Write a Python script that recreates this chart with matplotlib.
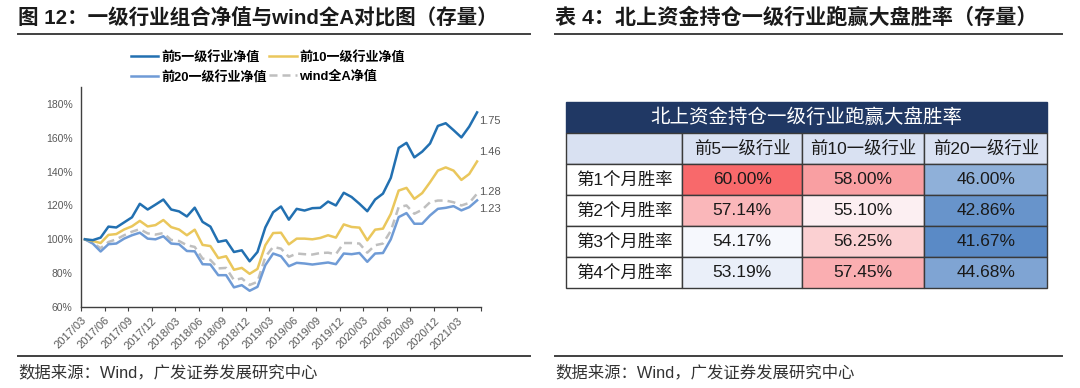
import numpy as np
import matplotlib.pyplot as plt
from matplotlib.lines import Line2D
from matplotlib.ticker import PercentFormatter
from matplotlib.colors import LinearSegmentedColormap, TwoSlopeNorm

plt.rcParams['font.family'] = ['Liberation Sans', 'Noto Sans CJK SC', 'DejaVu Sans']

# monthly net values (%), 2017/03 .. 2021/05
top5 = [100, 99.5, 101, 107.5, 107, 110, 113, 121, 117.6, 120.5, 123.5, 117.6, 116.5, 113.5,
        118.7, 110.3, 107.5, 98.5, 99.4, 92.5, 93.5, 87, 92.5, 107, 116, 119.4, 111.6, 118,
        117, 118.4, 118.6, 122.3, 120, 127.5, 125, 121, 116.6, 123.5, 127, 136.3, 154, 157,
        148.4, 151.8, 156.6, 167, 168.6, 164.5, 160.2, 166.6, 175]
top10 = [100, 99, 97.8, 102.6, 103.1, 105.8, 107.7, 110.9, 107.6, 108.4, 111.4, 107.2, 105.8,
         102.4, 105.7, 96.7, 96, 88.9, 90, 82, 83.1, 79.6, 82.5, 96.5, 103.7, 103.9, 97, 100.4,
         100.4, 100, 100.8, 102.4, 101, 108.8, 107.3, 106.9, 99.4, 105.7, 106.3, 115, 128.8,
         130.4, 123.9, 127.3, 133.7, 140.6, 142.5, 140.6, 135.1, 138.6, 146]
top20 = [100, 97.5, 92.8, 97.1, 97.5, 100.4, 102.4, 103.9, 100.4, 100, 101.8, 97.5, 97.1, 93.1,
         92.9, 85.3, 85.1, 78.8, 78.8, 71.6, 72.9, 69.6, 71.9, 84.7, 91.6, 90, 84.1, 86.1, 85.7,
         85.1, 85.7, 86.3, 85.3, 91.6, 91.2, 91.9, 86.7, 91.6, 91.9, 100, 113.1, 115.5, 109.2,
         109.2, 114.1, 118, 118.6, 119.6, 117.1, 119, 123]
wind_a = [100, 97.8, 94.8, 98.4, 100, 102.4, 104.5, 106, 103.5, 102.8, 103.7, 99.6, 99, 96.5,
          95.5, 88.6, 87.8, 82.8, 83.1, 75.9, 76.9, 73, 74.9, 89.6, 95.5, 94.5, 89.6, 91.6, 91.2,
          91, 91.9, 92.1, 91.2, 97.8, 97.8, 97.5, 92.1, 96.5, 97.5, 105, 119, 120, 115.1, 117.5,
          121.9, 122.9, 122.9, 121.9, 120, 121.5, 127]
tick_labels = ['2017/03', '2017/06', '2017/09', '2017/12', '2018/03', '2018/06', '2018/09',
               '2018/12', '2019/03', '2019/06', '2019/09', '2019/12', '2020/03', '2020/06',
               '2020/09', '2020/12', '2021/03']
end_labels = ['1.75', '1.46', '1.28', '1.23']

# table data
table_title = '北上资金持仓一级行业跑赢大盘胜率'
col_labels = ['前5一级行业', '前10一级行业', '前20一级行业']
row_labels = ['第1个月胜率', '第2个月胜率', '第3个月胜率', '第4个月胜率']
win_rate = [[60.00, 58.00, 46.00],
            [57.14, 55.10, 42.86],
            [54.17, 56.25, 41.67],
            [53.19, 57.45, 44.68]]

fig = plt.figure(figsize=(10.8, 3.88), dpi=100)

# ---- headers / footers
fig.text(18/1080, 1-18/388, '图 12：一级行业组合净值与wind全A对比图（存量）',
         fontsize=14.8, fontweight='bold', va='center', color='#1a1a1a')
fig.text(555/1080, 1-18/388, '表 4：北上资金持仓一级行业跑赢大盘胜率（存量）',
         fontsize=15.2, fontweight='bold', va='center', color='#1a1a1a')
for x0, x1 in [(18, 530), (555, 1062)]:
    fig.add_artist(Line2D([x0/1080, x1/1080], [1-34/388]*2, color='#404040', lw=1.4))
    fig.add_artist(Line2D([x0/1080, x1/1080], [1-356/388]*2, color='#404040', lw=1.4))
    fig.text(x0/1080, 1-373/388, '数据来源：Wind，广发证券发展研究中心', fontsize=11.8,
             va='center', color='#333333')

# ---- line chart
ax = fig.add_axes([81/1080, 1-307/388, 400/1080, 220/388])
x = np.arange(len(top5))
l_wind, = ax.plot(x, wind_a, color='#BFBFBF', lw=1.8, ls=(0, (3.2, 2)), label='wind全A净值')
l20, = ax.plot(x, top20, color='#6F9BD6', lw=1.8, label='前20一级行业净值')
l10, = ax.plot(x, top10, color='#EAC75C', lw=1.8, label='前10一级行业净值')
l5, = ax.plot(x, top5, color='#2270B1', lw=1.8, label='前5一级行业净值')

ax.set_xlim(-0.5, len(top5) - 0.5)
ax.set_ylim(60, 190)
ax.set_yticks(np.arange(60, 181, 20))
ax.yaxis.set_major_formatter(PercentFormatter(decimals=0))
ax.set_xticks(np.arange(-0.5, len(top5), 3))
ax.set_xticklabels(tick_labels + [''] * (len(ax.get_xticks()) - len(tick_labels)),
                   rotation=45, ha='right', rotation_mode='anchor')
ax.tick_params(axis='x', length=3, labelsize=8, colors='#404040', labelcolor='#595959', pad=3)
ax.tick_params(axis='y', length=0, labelsize=7.5, labelcolor='#595959', pad=6)
for s in ['top', 'right']:
    ax.spines[s].set_visible(False)
for s in ['left', 'bottom']:
    ax.spines[s].set_color('#404040')
    ax.spines[s].set_linewidth(1)

offsets = [(1.5, -6.5), (1.5, 7), (1.5, 1), (1.5, -6)]
for series, lab, off in zip([top5, top10, wind_a, top20], end_labels, offsets):
    ax.annotate(lab, (len(series) - 1, series[-1]), xytext=off, textcoords='offset points',
                ha='left', va='center', fontsize=8, color='#595959')

fig.legend(handles=[l5, l20, l10, l_wind], ncol=2, loc='upper left',
           bbox_to_anchor=(131/1080, 1-51/388), frameon=False, borderpad=0, borderaxespad=0,
           handlelength=2.1, handletextpad=0.2, columnspacing=0.2, labelspacing=0.5,
           prop={'size': 9.4, 'weight': 'bold'})

# ---- table
tab = fig.add_axes([566/1080, 1-288/388, 481/1080, 186/388])
tab.axis('off')
vals = np.array(win_rate)
cmap = LinearSegmentedColormap.from_list('excel3', ['#5A8AC6', '#FCFCFF', '#F8696B'])
norm = TwoSlopeNorm(vcenter=np.median(vals), vmin=vals.min(), vmax=vals.max())
navy = '#203864'
header_bg = '#D9E1F2'

cell_text = [[''] * 4, [''] + col_labels]
cell_colours = [[navy] * 4, [header_bg] * 4]
for lab, row in zip(row_labels, win_rate):
    cell_text.append([lab] + [f'{v:.2f}%' for v in row])
    cell_colours.append(['white'] + [cmap(norm(v)) for v in row])

tbl = tab.table(cellText=cell_text, cellColours=cell_colours, cellLoc='center',
                colWidths=[116, 119, 122, 122], bbox=[0, 0, 1, 1])
tbl.auto_set_font_size(False)
tbl.set_fontsize(12.5)
for (r, c), cell in tbl.get_celld().items():
    cell.set_linewidth(1)
    cell.set_edgecolor(navy if r == 0 else '#3a3a3a')
    cell.get_text().set_color('#1a1a1a')
tab.text(0.5, 11/12, table_title, transform=tab.transAxes, ha='center', va='center',
         color='white', fontsize=14)

fig.savefig('out.png', dpi=100)
